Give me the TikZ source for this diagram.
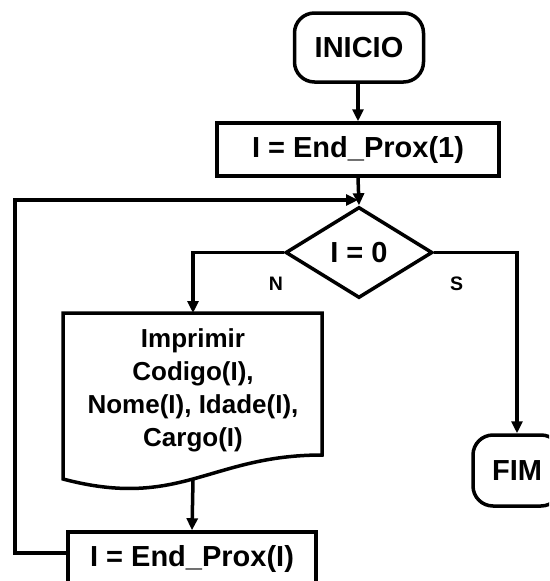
\documentclass[tikz,border=0pt]{standalone}
\usepackage{fontspec}
\setmainfont{Liberation Sans}
\usetikzlibrary{arrows.meta,shapes.geometric}
\begin{document}
\begin{tikzpicture}[x=1pt,y=-1pt,line width=3.5pt,
  txt/.style={font=\bfseries\fontsize{29}{33}\selectfont},
  term/.style={draw,txt,rounded corners=20pt,inner sep=0pt},
  proc/.style={draw,txt,rectangle,inner sep=0pt},
  dec/.style={draw,txt,diamond,aspect=1.6,inner sep=0pt,minimum width=147pt,minimum height=91pt},
  arr/.style={-{Triangle[length=12pt,width=11pt]}},
  lbl/.style={font=\bfseries\fontsize{19.5}{22}\selectfont,inner sep=0pt}]
\clip (0,0) rectangle (549,581);
\fill[white] (0,0) rectangle (549,581);
% nodes
\node[term,minimum width=129pt,minimum height=69pt] (inicio) at (359,47.5) {INICIO};
\node[proc,minimum width=282pt,minimum height=53pt] (r1) at (358,149.5) {I = End\_Prox(1)};
\node[dec] (d) at (359,252.5) {I = 0};
\node[lbl] (n) at (276,284) {N};
\node[lbl] (s) at (456.5,284) {S};
\node[term,minimum width=88pt,minimum height=71pt] (fim) at (517,470.5) {FIM};
\node[proc,minimum width=248pt,minimum height=53pt] (r2) at (192,558.5) {I = End\_Prox(I)};
% document shape
\coordinate (doctop) at (193,313);
\coordinate (docbot) at (193,480);
\draw[line join=miter] (63,313) -- (322,313) -- (322,455)
   .. controls (210,455) and (180,510) .. (63,479) -- cycle;
\node[font=\bfseries\fontsize{26}{33}\selectfont,align=center,inner sep=0pt] (doc) at (193,390)
  {Imprimir\\Codigo(I),\\Nome(I), Idade(I),\\Cargo(I)};
% connectors
\coordinate (join) at (358,200);
\coordinate (loopc) at (15,553);
\draw[arr] (r1.north |- inicio.south) -- (r1.north);
\draw[arr] (r1.south) -- (d.north);
\draw[arr] (d.west) -| (doctop);
\draw[arr] (d.east) -| (fim.north);
\draw[arr] (docbot) -- (r2.north);
\draw[arr] (r2.west |- loopc) -- (loopc) |- (join);
\end{tikzpicture}
\end{document}
